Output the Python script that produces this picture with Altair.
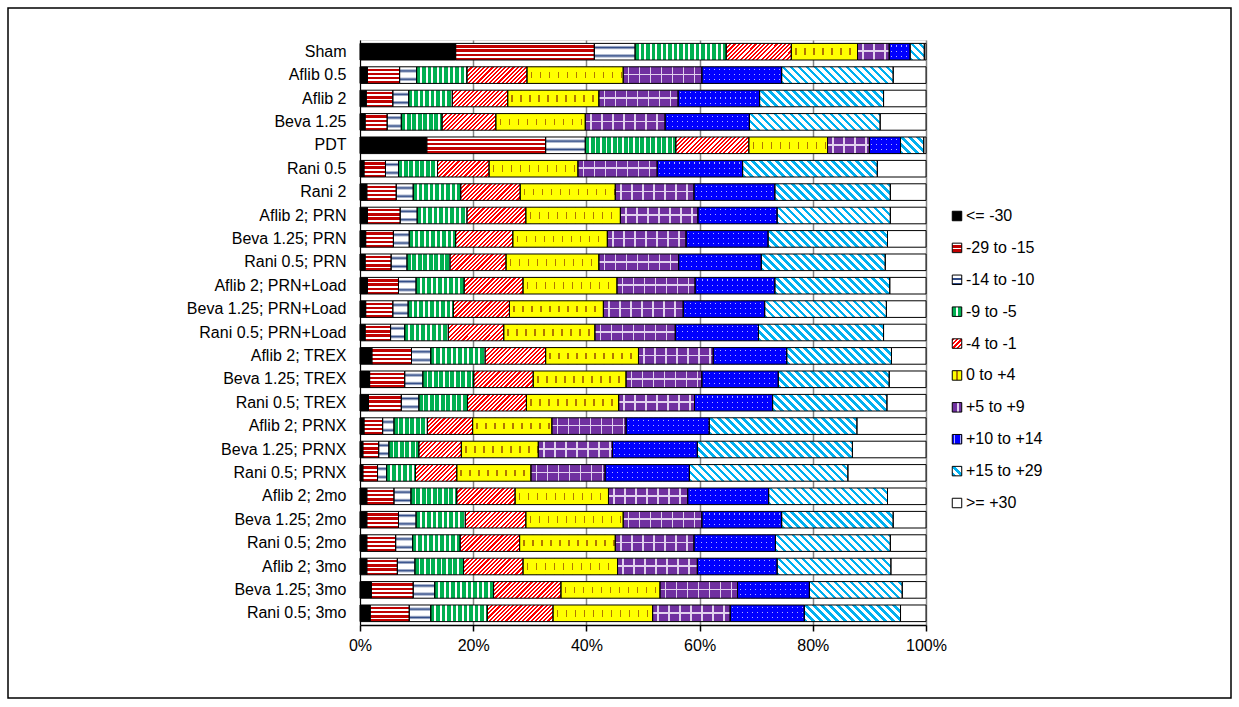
import altair as alt

# ---------------- data ----------------
categories = ["Sham", "Aflib 0.5", "Aflib 2", "Beva 1.25", "PDT", "Rani 0.5", "Rani 2",
              "Aflib 2; PRN", "Beva 1.25; PRN", "Rani 0.5; PRN",
              "Aflib 2; PRN+Load", "Beva 1.25; PRN+Load", "Rani 0.5; PRN+Load",
              "Aflib 2; TREX", "Beva 1.25; TREX", "Rani 0.5; TREX",
              "Aflib 2; PRNX", "Beva 1.25; PRNX", "Rani 0.5; PRNX",
              "Aflib 2; 2mo", "Beva 1.25; 2mo", "Rani 0.5; 2mo",
              "Aflib 2; 3mo", "Beva 1.25; 3mo", "Rani 0.5; 3mo"]

series_names = ["<= -30", "-29 to -15", "-14 to -10", "-9 to -5", "-4 to -1",
                "0 to +4", "+5 to +9", "+10 to +14", "+15 to +29", ">= +30"]

le_m30   = [16.9, 1.3, 1.1, 0.9, 11.8, 0.7, 1.2, 1.3, 1.0, 0.9, 1.3, 1.0, 0.9, 2.1, 1.7, 1.5, 0.7, 0.5, 0.5, 1.2, 1.2, 1.2, 1.2, 2.0, 1.8]
m29_m15  = [24.5, 5.7, 4.7, 3.9, 21.0, 3.8, 5.2, 5.8, 4.9, 4.6, 5.5, 4.8, 4.5, 7.0, 6.2, 5.8, 3.3, 2.8, 2.6, 4.8, 5.6, 5.1, 5.4, 7.4, 6.9]
m14_m10  = [7.2, 3.0, 2.8, 2.5, 7.0, 2.3, 3.0, 3.0, 2.8, 2.8, 3.1, 2.7, 2.5, 3.4, 3.2, 3.1, 2.0, 1.8, 1.6, 3.0, 3.1, 3.0, 3.1, 3.8, 3.8]
m9_m5    = [16.1, 8.9, 7.7, 7.2, 16.0, 6.9, 8.4, 8.8, 8.2, 7.6, 8.5, 8.0, 7.7, 9.6, 9.0, 8.6, 5.9, 5.3, 5.1, 8.1, 8.7, 8.4, 8.6, 10.4, 10.0]
m4_m1    = [11.5, 10.6, 9.8, 9.5, 12.9, 9.1, 10.5, 10.4, 10.1, 9.9, 10.4, 9.9, 9.8, 10.7, 10.5, 10.4, 8.0, 7.5, 7.3, 10.3, 10.7, 10.5, 10.5, 11.9, 11.6]
p0_p4    = [11.7, 17.0, 16.1, 15.8, 13.9, 15.7, 16.8, 16.7, 16.7, 16.4, 16.6, 16.6, 16.1, 16.4, 16.4, 16.3, 14.0, 13.6, 13.1, 16.5, 17.2, 16.9, 16.7, 17.5, 17.6]
p5_p9    = [5.6, 13.9, 14.0, 14.1, 7.4, 14.0, 13.9, 13.7, 13.9, 14.1, 13.8, 14.1, 14.2, 13.2, 13.4, 13.4, 13.1, 13.1, 13.1, 14.0, 13.9, 13.9, 14.1, 13.7, 13.7]
p10_p14  = [3.7, 14.1, 14.4, 14.9, 5.5, 15.1, 14.3, 14.0, 14.5, 14.6, 14.1, 14.4, 14.7, 13.0, 13.5, 13.8, 14.7, 15.0, 14.9, 14.3, 14.1, 14.4, 14.1, 12.7, 13.1]
p15_p29  = [2.5, 19.7, 21.9, 23.1, 4.1, 23.8, 20.4, 20.0, 21.1, 21.9, 20.3, 21.5, 22.1, 18.5, 19.6, 20.2, 26.1, 27.4, 28.0, 21.0, 19.7, 20.3, 20.1, 16.4, 17.0]
ge_p30   = [0.3, 5.8, 7.5, 8.1, 0.4, 8.6, 6.3, 6.3, 6.8, 7.2, 6.4, 7.0, 7.5, 6.1, 6.5, 6.9, 12.2, 13.0, 13.8, 6.8, 5.8, 6.3, 6.2, 4.2, 4.5]

series_values = [le_m30, m29_m15, m14_m10, m9_m5, m4_m1, p0_p4, p5_p9, p10_p14, p15_p29, ge_p30]

# ---------------- layout constants ----------------
W, H = 566, 585
PX = W / 100.0          # pixels per percent (for pattern density only)
BAR_H = 16.6
FONT = "Liberation Sans"
CLEAR = "rgba(255,255,255,0)"


# ---------------- pattern helpers (gradients) ----------------
def stripes(bands, n):
    stops, pos = [], 0.0
    step = 1.0 / max(n, 1e-6)
    while pos < 1 - 1e-9:
        for color, frac in bands:
            end = min(pos + frac * step, 1.0)
            stops.append({"offset": round(pos, 4), "color": color})
            stops.append({"offset": round(end, 4), "color": color})
            pos = end
            if pos >= 1 - 1e-9:
                break
    return stops


def grad(x1, y1, x2, y2, stops):
    return {"gradient": "linear", "x1": x1, "y1": y1, "x2": x2, "y2": y2, "stops": stops}


def hstripes(bands, h, period):
    return grad(0, 0, 0, 1, stripes(bands, h / period))


def vstripes(bands, w, period):
    return grad(0, 0, 1, 0, stripes(bands, max(w, 0.5) / period))


def diag_up(bands, w, h, period):      # "/"
    w = max(w, 0.5)
    k = (w + h) / (w * w + h * h)
    return grad(0, 0, k * w, k * h, stripes(bands, (w + h) / period))


def diag_down(bands, w, h, period):    # "\"
    w = max(w, 0.5)
    k = (w + h) / (w * w + h * h)
    return grad(0, 1, k * w, 1 - k * h, stripes(bands, (w + h) / period))


def pattern(si, w, h):
    if si == 0:
        return "#000000"
    if si == 1:
        return hstripes([("#FFFFFF", 0.42), ("#C00000", 0.58)], h, 4.2)
    if si == 2:
        wave = [{"offset": 0, "color": "#FFFFFF"}, {"offset": 0.12, "color": "#FFFFFF"},
                {"offset": 0.25, "color": "#2F4A86"}, {"offset": 0.38, "color": "#FFFFFF"},
                {"offset": 0.62, "color": "#FFFFFF"}, {"offset": 0.75, "color": "#2F4A86"},
                {"offset": 0.88, "color": "#FFFFFF"}, {"offset": 1, "color": "#FFFFFF"}]
        return grad(0, 0, 0, 1, wave)
    if si == 3:
        return vstripes([("#00B050", 0.68), ("#FFFFFF", 0.32)], w, 5.5)
    if si == 4:
        return diag_up([("#FF0000", 0.5), ("#FFFFFF", 0.5)], w, h, 4.2)
    if si == 5:
        return vstripes([("#FFFF00", 0.41), ("#B07800", 0.18), ("#FFFF00", 0.41)], w, 9.0)
    if si == 6:
        return vstripes([("#7030A0", 0.43), ("#E2D2EE", 0.14), ("#7030A0", 0.43)], w, 11.0)
    if si == 7:
        return vstripes([("#0000FF", 0.4), ("#B0B0FF", 0.2), ("#0000FF", 0.4)], w, 5.0)
    if si == 8:
        return diag_down([("#00B0F0", 0.45), ("#FFFFFF", 0.55)], w, h, 8.0)
    return "#FFFFFF"


records = []
for ci, cat in enumerate(categories):
    for si, name in enumerate(series_names):
        v = series_values[si][ci]
        records.append({"category": cat, "series": name, "order": si, "value": v,
                        "pat": pattern(si, v * PX, BAR_H)})

legend_records = []
for si, name in enumerate(series_names):
    if si == 5:
        f = grad(0, 0, 1, 0, stripes([("#FFFF00", 0.4), ("#B07800", 0.2), ("#FFFF00", 0.4)], 1))
    elif si == 2:
        f = hstripes([("#FFFFFF", 0.6), ("#2F4A86", 0.4)], 9, 4.5)
    else:
        f = pattern(si, 9, 9)
    legend_records.append({"series": name, "pat": f})

# ---------------- chart ----------------
base = alt.Chart(alt.Data(values=records)).transform_stack(
    stack="value", groupby=["category"],
    sort=[alt.SortField("order", order="ascending")], as_=["x0", "x1"])

y_enc = alt.Y("category:N", sort=categories,
              scale=alt.Scale(paddingInner=0.29, paddingOuter=0.145),
              axis=alt.Axis(title=None, ticks=False, labelFontSize=16, labelFont=FONT,
                            labelColor="black", labelPadding=14, domainColor="black",
                            domainWidth=1, labelLimit=400))
x_enc = alt.X("x0:Q", scale=alt.Scale(domain=[0, 100], nice=False),
              axis=alt.Axis(title=None, values=[0, 20, 40, 60, 80, 100],
                            labelExpr="datum.value + '%'", labelFontSize=16, labelFont=FONT,
                            labelColor="black", labelPadding=6, labelFlush=False,
                            labelOverlap=False, grid=True,
                            gridColor="#868686", gridWidth=1.5, domainColor="black",
                            domainWidth=1.5, tickColor="black", tickWidth=1.5, tickSize=6))

bars = base.mark_bar(strokeWidth=0).encode(
    y=y_enc, x=x_enc, x2="x1:Q", fill=alt.Fill("pat:N", scale=None))

yellow_mask = base.transform_filter(alt.datum.order == 5).mark_bar(
    fill=grad(0, 0, 0, 1, [{"offset": 0, "color": "#FFFF00"}, {"offset": 0.3, "color": "#FFFF00"},
                           {"offset": 0.3, "color": CLEAR}, {"offset": 0.7, "color": CLEAR},
                           {"offset": 0.7, "color": "#FFFF00"}, {"offset": 1, "color": "#FFFF00"}])
).encode(y=alt.Y("category:N", sort=categories), x="x0:Q", x2="x1:Q")

purple_line = base.transform_filter(alt.datum.order == 6).mark_bar(
    fill=grad(0, 0, 0, 1, [{"offset": 0, "color": CLEAR}, {"offset": 0.42, "color": CLEAR},
                           {"offset": 0.42, "color": "#E2D2EE"}, {"offset": 0.52, "color": "#E2D2EE"},
                           {"offset": 0.52, "color": CLEAR}, {"offset": 1, "color": CLEAR}])
).encode(y=alt.Y("category:N", sort=categories), x="x0:Q", x2="x1:Q")

blue_dots = base.transform_filter(alt.datum.order == 7).mark_bar(
    fill=grad(0, 0, 0, 1, stripes([("#0000FF", 0.4), (CLEAR, 0.2), ("#0000FF", 0.4)], 3.2))
).encode(y=alt.Y("category:N", sort=categories), x="x0:Q", x2="x1:Q")

outline = base.mark_bar(fill=CLEAR, stroke="black", strokeWidth=1).encode(
    y=alt.Y("category:N", sort=categories), x="x0:Q", x2="x1:Q")

main = alt.layer(bars, yellow_mask, purple_line, blue_dots, outline)

legend_y = alt.Y("series:N", sort=series_names,
                 scale=alt.Scale(range=[176, 463], padding=0), axis=None)
legend_sym = alt.Chart(alt.Data(values=legend_records)).mark_square(
    size=90, stroke="black", strokeWidth=1, opacity=1
).encode(y=legend_y, x=alt.value(597), fill=alt.Fill("pat:N", scale=None))
legend_txt = alt.Chart(alt.Data(values=legend_records)).mark_text(
    align="left", baseline="middle", fontSize=16, font=FONT, color="black"
).encode(y=legend_y, x=alt.value(606), text="series:N")

frame = alt.Chart(alt.Data(values=[{"f": 1}])).mark_rect(
    fill=CLEAR, stroke="black", strokeWidth=1.5
).encode(x=alt.value(-352), x2=alt.value(871), y=alt.value(-32), y2=alt.value(658))

chart = alt.layer(frame, main, legend_sym, legend_txt).resolve_scale(
    y="independent"
).properties(
    width=W, height=H, padding={"left": 7, "top": 7, "right": 4, "bottom": 4}
).configure_view(stroke=None).configure(background="white")

chart.save("out.html", embed_options={"renderer": "svg", "actions": False})
